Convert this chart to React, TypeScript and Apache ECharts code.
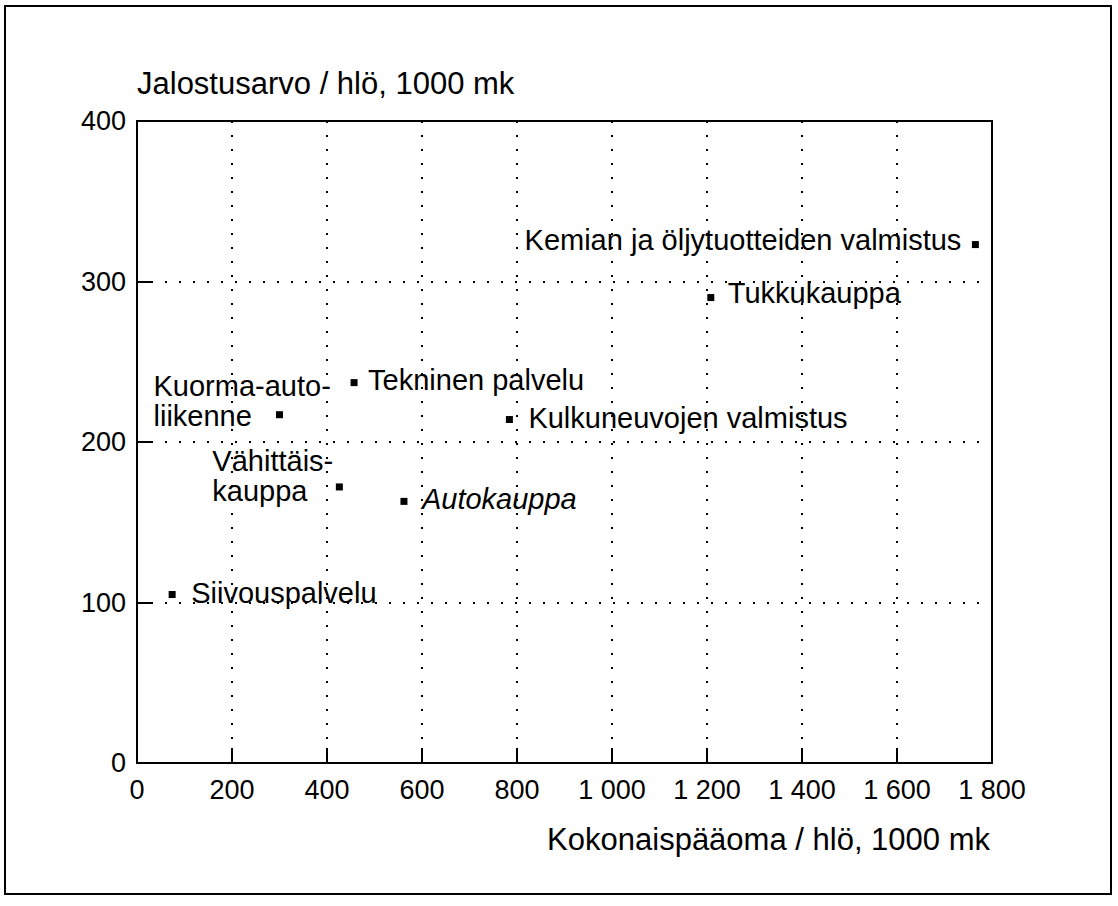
import React, { useEffect, useRef } from "react";
import * as echarts from "echarts";

// ---- Data ----
const industries = [
  "Kemian ja öljytuotteiden valmistus",
  "Tukkukauppa",
  "Tekninen palvelu",
  "Kuorma-auto-\nliikenne",
  "Kulkuneuvojen valmistus",
  "Vähittäis-\nkauppa",
  "Autokauppa",
  "Siivouspalvelu",
];
const capitalPerPerson = [1765, 1208, 457, 300, 784, 426, 562, 74]; // x, 1000 mk
const valueAddedPerPerson = [323, 290, 237, 217, 214, 172, 163, 105]; // y, 1000 mk

const xTicks = [0, 200, 400, 600, 800, 1000, 1200, 1400, 1600, 1800];
const xTickLabels = ["0", "200", "400", "600", "800", "1 000", "1 200", "1 400", "1 600", "1 800"];
const yTickLabels = ["0", "100", "200", "300", "400"];

const xTitle = "Kokonaispääoma / hlö, 1000 mk";
const yTitle = "Jalostusarvo / hlö, 1000 mk";

// ---- Label layout (styling only) ----
const labelLayout: Record<string, { align: string; dx: number; dy: number; italic?: boolean }> = {
  "Kemian ja öljytuotteiden valmistus": { align: "right", dx: -14, dy: -5 },
  Tukkukauppa: { align: "left", dx: 17, dy: -5 },
  "Tekninen palvelu": { align: "left", dx: 14, dy: -3 },
  "Kuorma-auto-\nliikenne": { align: "left", dx: -126, dy: -14 },
  "Kulkuneuvojen valmistus": { align: "left", dx: 19, dy: -2 },
  "Vähittäis-\nkauppa": { align: "left", dx: -127, dy: -11 },
  Autokauppa: { align: "left", dx: 18, dy: -2, italic: true },
  Siivouspalvelu: { align: "left", dx: 19, dy: -1 },
};

const FONT = "'Liberation Sans', Arial, Helvetica, sans-serif";
const INK = "#000";
const SYMBOL = 7;

export default function App() {
  const ref = useRef<HTMLDivElement>(null);

  useEffect(() => {
    document.body.style.margin = "0";
    if (!ref.current) return;
    const chart = echarts.init(ref.current, undefined, { renderer: "svg" });

    const data = industries.map((name, i) => {
      const l = labelLayout[name];
      return {
        name,
        value: [capitalPerPerson[i], valueAddedPerPerson[i]],
        label: {
          show: true,
          position: [SYMBOL / 2 + l.dx, SYMBOL / 2 + l.dy],
          formatter: name,
          align: l.align,
          verticalAlign: "middle",
          fontStyle: l.italic ? "italic" : "normal",
          fontSize: 29,
          lineHeight: 30,
          fontFamily: FONT,
          color: INK,
        },
      };
    });

    const gridLine = {
      show: true,
      lineStyle: { color: INK, width: 2, type: [2, 12] as any },
    };

    chart.setOption({
      animation: false,
      backgroundColor: "#fff",
      grid: {
        left: 137,
        right: 126,
        top: 121,
        bottom: 143,
        show: true,
        borderColor: INK,
        borderWidth: 2,
        backgroundColor: "transparent",
      },
      xAxis: {
        type: "value",
        min: xTicks[0],
        max: xTicks[xTicks.length - 1],
        interval: xTicks[1] - xTicks[0],
        axisLine: { show: true, lineStyle: { color: INK, width: 2 } },
        axisTick: { show: true, inside: true, length: 15, lineStyle: { color: INK, width: 2 } },
        axisLabel: {
          margin: 13,
          fontSize: 27,
          fontFamily: FONT,
          color: INK,
          formatter: (v: number) => {
            const idx = xTicks.indexOf(v);
            return idx >= 0 ? xTickLabels[idx] : "";
          },
        },
        splitLine: gridLine,
      },
      yAxis: {
        type: "value",
        min: 0,
        max: 400,
        interval: 100,
        axisLine: { show: true, lineStyle: { color: INK, width: 2 } },
        axisTick: { show: true, inside: true, length: 16, lineStyle: { color: INK, width: 2 } },
        axisLabel: {
          margin: 11,
          fontSize: 27,
          fontFamily: FONT,
          color: INK,
          formatter: (v: number) => yTickLabels[Math.round(v / 100)] ?? "",
        },
        splitLine: gridLine,
      },
      graphic: [
        {
          type: "rect",
          shape: { x: 5, y: 6, width: 1106, height: 888 },
          style: { fill: "none", stroke: INK, lineWidth: 2 },
          z: 0,
        },
        {
          type: "text",
          left: 137,
          top: 68,
          style: { text: yTitle, fontSize: 31, fontFamily: FONT, fill: INK },
        },
        {
          type: "text",
          right: 128,
          top: 824,
          style: { text: xTitle, fontSize: 31, fontFamily: FONT, fill: INK },
        },
      ],
      series: [
        {
          type: "scatter",
          symbol: "rect",
          symbolSize: SYMBOL,
          itemStyle: { color: INK, opacity: 1 },
          data,
          z: 5,
        },
      ],
    });

    return () => chart.dispose();
  }, []);

  return <div ref={ref} style={{ width: 1118, height: 906 }} />;
}
